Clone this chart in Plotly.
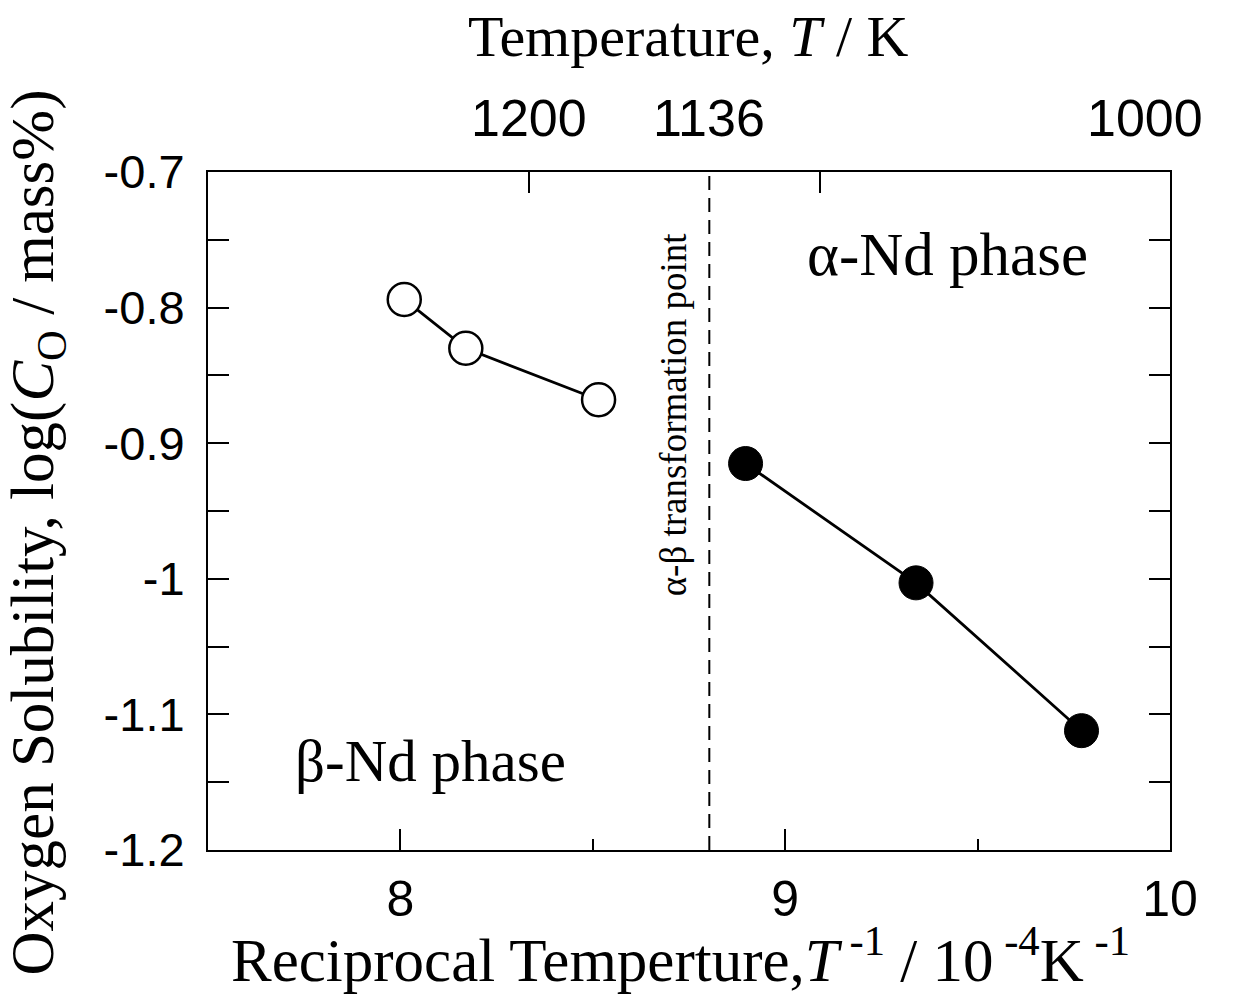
import plotly.graph_objects as go

# ---- data ----
beta_x = [8.01, 8.17, 8.515]          # 1/T, 10^-4 K^-1 (beta-Nd phase, open)
beta_y = [-0.794, -0.830, -0.868]
alpha_x = [8.897, 9.34, 9.77]         # alpha-Nd phase (filled)
alpha_y = [-0.915, -1.003, -1.112]
transition_T = 1136                   # K
top_T_ticks = [1200, 1100, 1000]
top_T_labels = ["1200", "1136", "1000"]
y_ticks = [-1.2, -1.1, -1.0, -0.9, -0.8, -0.7]
y_tick_text = ["-1.2", "-1.1", "-1", "-0.9", "-0.8", "-0.7"]
x_ticks = [8, 9, 10]
x_tick_text = ["8", "9", "10"]

SERIF = "Liberation Serif, Times New Roman, serif"
SANS = "Liberation Sans, Arial, sans-serif"

fig = go.Figure()

tx = 1e4 / transition_T
fig.add_trace(go.Scatter(x=[tx, tx], y=[-1.2, -0.7], mode="lines",
                         line=dict(color="black", width=2, dash="14px,8px"),
                         showlegend=False, hoverinfo="skip"))

fig.add_trace(go.Scatter(x=beta_x, y=beta_y, mode="lines+markers",
                         line=dict(color="black", width=2.8),
                         marker=dict(symbol="circle", size=33, color="white",
                                     line=dict(color="black", width=2.5)),
                         showlegend=False))
fig.add_trace(go.Scatter(x=alpha_x, y=alpha_y, mode="lines+markers",
                         line=dict(color="black", width=2.8),
                         marker=dict(symbol="circle", size=34, color="black",
                                     line=dict(color="black", width=1)),
                         showlegend=False))

# dummy trace for top axis
fig.add_trace(go.Scatter(x=[7.5, 10], y=[-1.2, -1.2], xaxis="x2", mode="markers",
                         marker=dict(opacity=0), showlegend=False, hoverinfo="skip"))

fig.update_layout(
    width=1235, height=1001,
    margin=dict(l=208, r=65, t=172, b=151),
    paper_bgcolor="white", plot_bgcolor="white",
    xaxis=dict(range=[7.5, 10], tickmode="array", tickvals=x_ticks, ticktext=x_tick_text,
               ticks="inside", ticklen=21, tickwidth=2, tickcolor="black",
               showline=True, linecolor="black", linewidth=2, mirror=True,
               showgrid=False, zeroline=False, ticklabelstandoff=4,
               tickfont=dict(family=SANS, size=50, color="black"),
               minor=dict(tickmode="array", tickvals=[8.5, 9.5], ticks="inside",
                          ticklen=11, tickwidth=2, tickcolor="black", showgrid=False)),
    xaxis2=dict(range=[7.5, 10], overlaying="x", side="top", tickmode="array",
                tickvals=[1e4 / t for t in top_T_ticks], showticklabels=False,
                ticks="inside", ticklen=21, tickwidth=2, tickcolor="black",
                showgrid=False, zeroline=False, showline=False),
    yaxis=dict(range=[-1.2, -0.7], tickmode="array", tickvals=y_ticks, ticktext=y_tick_text,
               ticks="inside", ticklen=21, tickwidth=2, tickcolor="black",
               showline=True, linecolor="black", linewidth=2, mirror="allticks",
               showgrid=False, zeroline=False, ticklabelstandoff=12,
               tickfont=dict(family=SANS, size=47, color="black"),
               minor=dict(tickmode="array", tickvals=[-1.15, -1.05, -0.95, -0.85, -0.75],
                          ticks="inside", ticklen=11, tickwidth=2, tickcolor="black",
                          showgrid=False)),
)

annots = []
# top temperature labels
top_label_x = [1e4 / 1200, tx, 9.936]
for xv, lab in zip(top_label_x, top_T_labels):
    annots.append(dict(x=xv, xref="x", y=1.080, yref="paper", text=lab, showarrow=False,
                       font=dict(family=SANS, size=52, color="black"),
                       xanchor="center", yanchor="middle"))
# axis titles
annots.append(dict(x=0.499, xref="paper", y=1.200, yref="paper",
                   text="Temperature, <i>T</i> / K", showarrow=False,
                   font=dict(family=SERIF, size=58, color="black"),
                   xanchor="center", yanchor="middle"))
annots.append(dict(x=0.491, xref="paper", y=-0.155, yref="paper",
                   text="Reciprocal Temperture,<i>T</i><sup> -1</sup> / 10<sup> -4</sup>K<sup> -1</sup>",
                   showarrow=False, font=dict(family=SERIF, size=61, color="black"),
                   xanchor="center", yanchor="middle"))
annots.append(dict(x=-0.178, xref="paper", y=0.468, yref="paper",
                   text="Oxygen Solubility, log(<i>C</i><sub>O</sub> / mass%)",
                   showarrow=False, textangle=-90,
                   font=dict(family=SERIF, size=61, color="black"),
                   xanchor="center", yanchor="middle"))
# in-plot labels
annots.append(dict(x=9.422, y=-0.761, xref="x", yref="y", text="α-Nd phase", showarrow=False,
                   font=dict(family=SERIF, size=61, color="black")))
annots.append(dict(x=8.079, y=-1.134, xref="x", yref="y", text="β-Nd phase", showarrow=False,
                   font=dict(family=SERIF, size=59, color="black")))
annots.append(dict(x=8.710, y=-0.879, xref="x", yref="y", text="α-β transformation point",
                   showarrow=False, textangle=-90,
                   font=dict(family=SERIF, size=37, color="black")))
fig.update_layout(annotations=annots)

fig.write_html("out.html")
